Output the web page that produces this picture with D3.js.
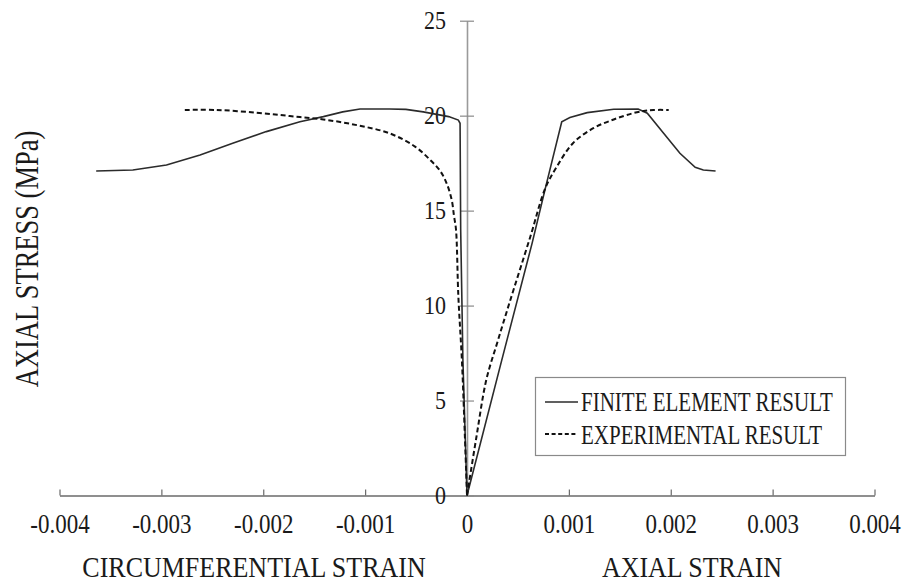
<!DOCTYPE html>
<html>
<head>
<meta charset="utf-8">
<script src="https://cdn.jsdelivr.net/npm/d3@7"></script>
<style>
  html, body { margin: 0; padding: 0; background: #fff; }
  svg { display: block; }
  text { font-family: "Liberation Serif", "Times New Roman", serif; fill: #1a1a1a; }
</style>
</head>
<body>
<svg id="chart" width="904" height="585"></svg>
<script>
// ---- data ----
const xTicks = [-0.004, -0.003, -0.002, -0.001, 0, 0.001, 0.002, 0.003, 0.004];
const xTickLabels = ["-0.004", "-0.003", "-0.002", "-0.001", "0", "0.001", "0.002", "0.003", "0.004"];
const yTicks = [0, 5, 10, 15, 20, 25];
const yTickLabels = ["0", "5", "10", "15", "20", "25"];

// Finite element result – circumferential branch
const feCircStrain = [-0.00364, -0.00328, -0.00295, -0.00262, -0.0023, -0.00197, -0.00164, -0.00141, -0.00122, -0.00105, -0.00076, -0.0006, -0.00043, -0.00018, -0.000085, -0.000068, -0.000062, -0.00004, 0];
const feCircStress = [17.09, 17.14, 17.4, 17.93, 18.55, 19.16, 19.68, 19.95, 20.2, 20.35, 20.35, 20.33, 20.2, 19.95, 19.77, 19.6, 14.0, 7.1, 0];
// Finite element result – axial branch
const feAxStrain = [0, 0.00034, 0.00064, 0.00077, 0.00093, 0.00101, 0.00118, 0.00144, 0.00168, 0.00177, 0.00193, 0.00209, 0.00224, 0.00232, 0.00244];
const feAxStress = [0, 7.1, 13.3, 16.2, 19.68, 19.9, 20.16, 20.34, 20.35, 20.13, 19.07, 18.02, 17.28, 17.14, 17.09];

// Experimental result – circumferential branch
const exCircStrain = [-0.00277, -0.00246, -0.00207, -0.00174, -0.00141, -0.00108, -0.00076, -0.00051, -0.00036, -0.000265, -0.0002, -0.00015, -0.000127, -0.000108, -0.000085, -0.00005, -0.00002, 0];
const exCircStress = [20.3, 20.3, 20.16, 19.98, 19.8, 19.5, 19.07, 18.37, 17.66, 17.1, 16.44, 15.56, 14.7, 14.0, 10.5, 7.1, 3.0, 0];
// Experimental result – axial branch
const exAxStrain = [0, 0.00009, 0.00019, 0.0003, 0.00042, 0.00062, 0.00077, 0.00088, 0.00104, 0.00124, 0.00144, 0.00163, 0.00175, 0.00183, 0.00198];
const exAxStress = [0, 3.0, 6.1, 8.1, 10.2, 13.6, 16.2, 17.3, 18.55, 19.34, 19.8, 20.13, 20.26, 20.3, 20.3];

const legendLabels = ["FINITE ELEMENT RESULT", "EXPERIMENTAL RESULT"];
const xTitleLeft = "CIRCUMFERENTIAL STRAIN";
const xTitleRight = "AXIAL STRAIN";
const yTitle = "AXIAL STRESS (MPa)";

// ---- chart ----
const svg = d3.select("#chart");
const x = d3.scaleLinear().domain([-0.004, 0.004]).range([59.5, 874.5]);
const y = d3.scaleLinear().domain([0, 25]).range([495.5, 20.7]);

const LINE = "#2b2b2b";

function sText(parent, str, tx, ty, size, sy, anchor) {
  return parent.append("text")
    .attr("transform", `translate(${tx},${ty}) scale(1,${sy})`)
    .attr("font-size", size)
    .attr("text-anchor", anchor || "middle")
    .text(str);
}

// X axis
const gx = svg.append("g").attr("transform", `translate(0,${y(0)})`)
  .call(d3.axisBottom(x).tickValues(xTicks)
    .tickFormat(d => xTickLabels[xTicks.indexOf(d)])
    .tickSize(-6).tickSizeOuter(0));
gx.attr("font-family", null);
gx.select(".domain").attr("stroke", "#6a6a6a").attr("stroke-width", 1.3);
gx.selectAll(".tick line").attr("stroke", "#6a6a6a").attr("stroke-width", 1.2);
gx.selectAll(".tick text")
  .attr("y", null).attr("dy", null)
  .attr("transform", "translate(0,37.5) scale(1,1.16)")
  .attr("font-size", 23)
  .attr("font-family", "Liberation Serif")
  .attr("fill", "#1a1a1a");

// Y axis
const gy = svg.append("g").attr("transform", `translate(${x(0)},0)`)
  .call(d3.axisLeft(y).tickValues(yTicks)
    .tickFormat(d => yTickLabels[yTicks.indexOf(d)])
    .tickSize(7).tickSizeOuter(0));
gy.attr("font-family", null);
gy.select(".domain").attr("stroke", "#9a9a9a").attr("stroke-width", 1.6);
gy.selectAll(".tick line").attr("x1", -7).attr("x2", 7)
  .attr("stroke", "#8a8a8a").attr("stroke-width", 1.2);
gy.selectAll(".tick text")
  .attr("x", null).attr("dy", null)
  .attr("transform", "translate(-21,8) scale(1,1.12)")
  .attr("font-size", 22)
  .attr("font-family", "Liberation Serif")
  .attr("fill", "#1a1a1a");

// Lines
const lineLin = d3.line().x(d => x(d[0])).y(d => y(d[1]));
const lineSmooth = d3.line().x(d => x(d[0])).y(d => y(d[1])).curve(d3.curveCatmullRom.alpha(0.5));

function pts(xs, ys) { return xs.map((v, i) => [v, ys[i]]); }

svg.append("path").datum(pts(feCircStrain, feCircStress))
  .attr("d", lineLin).attr("fill", "none").attr("stroke", LINE).attr("stroke-width", 1.6);
svg.append("path").datum(pts(feAxStrain, feAxStress))
  .attr("d", lineLin).attr("fill", "none").attr("stroke", LINE).attr("stroke-width", 1.6);

svg.append("path").datum(pts(exCircStrain, exCircStress))
  .attr("d", lineSmooth).attr("fill", "none").attr("stroke", "#111").attr("stroke-width", 2)
  .attr("stroke-dasharray", "5,3");
svg.append("path").datum(pts(exAxStrain, exAxStress))
  .attr("d", lineSmooth).attr("fill", "none").attr("stroke", "#111").attr("stroke-width", 2)
  .attr("stroke-dasharray", "5,3");

// Axis titles
sText(svg, xTitleLeft, 254, 577, 26, 1.14, "middle");
sText(svg, xTitleRight, 692, 577, 26, 1.14, "middle");
svg.append("text")
  .attr("transform", "translate(38,259) rotate(-90) scale(1,1.25)")
  .attr("font-size", 26.5)
  .attr("text-anchor", "middle")
  .text(yTitle);

// Legend
const lg = svg.append("g");
lg.append("rect").attr("x", 535.5).attr("y", 377.5).attr("width", 310).attr("height", 78)
  .attr("fill", "#fff").attr("stroke", "#8a8a8a").attr("stroke-width", 1.2);
lg.append("line").attr("x1", 545).attr("x2", 578).attr("y1", 402).attr("y2", 402)
  .attr("stroke", LINE).attr("stroke-width", 1.6);
lg.append("line").attr("x1", 545).attr("x2", 578).attr("y1", 434).attr("y2", 434)
  .attr("stroke", "#111").attr("stroke-width", 2).attr("stroke-dasharray", "4,2.6");
sText(lg, legendLabels[0], 581, 411, 21, 1.3, "start");
sText(lg, legendLabels[1], 581, 443.5, 21, 1.3, "start");
</script>
</body>
</html>
